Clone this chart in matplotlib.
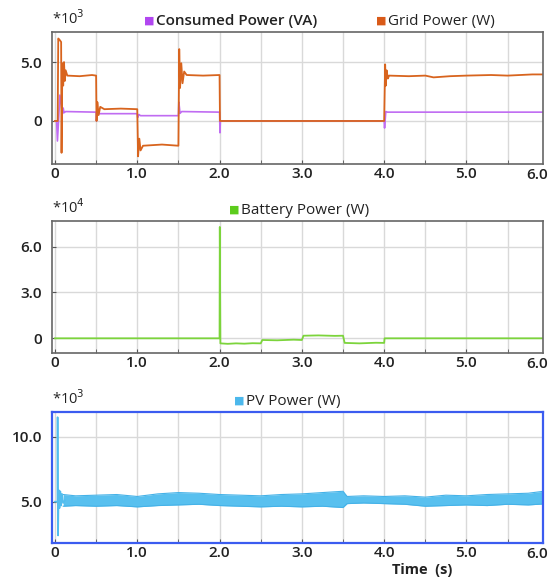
import matplotlib.pyplot as plt
import numpy as np

# ---- data (time in s, power in W / VA) ----
t_grid = [0, 0.033, 0.04, 0.06, 0.075, 0.08, 0.09, 0.1, 0.11, 0.12, 0.13, 0.15,
          0.3, 0.45, 0.5, 0.505, 0.515, 0.53, 0.55, 0.6, 0.8, 1.0, 1.01, 1.025,
          1.04, 1.07, 1.3, 1.5, 1.51, 1.52, 1.535, 1.55, 1.57, 1.6, 1.8, 2.0, 2.005,
          4.0, 4.012, 4.02, 4.03, 4.045, 4.06, 4.3, 4.5, 4.6, 4.8, 5.0, 5.3, 5.5, 5.8, 6.0]
p_grid = [0, 0, 7000, 6850, 6700, -2700, 4900, 3000, 5000, 3400, 4300, 3850,
          3800, 3900, 3850, 0, 1600, 500, 1200, 1000, 1050, 1000, -3000, -1500,
          -2500, -2100, -2000, -2100, 6100, 2800, 4900, 3200, 4200, 3900, 3850, 3900, 0,
          0, 4800, 3000, 4300, 3600, 3850, 3800, 3850, 3700, 3800, 3850, 3900, 3850, 3950, 3950]

t_cons = [0, 0.02, 0.03, 0.045, 0.06, 0.075, 0.09, 0.1, 0.11, 0.13,
          0.5, 0.505, 0.52, 0.54, 1.0, 1.005, 1.02, 1.04,
          1.5, 1.505, 1.52, 1.54, 2.0, 2.005, 2.01,
          4.0, 4.005, 4.02, 4.04, 6.0]
p_cons = [0, 0, -1700, 200, 2200, 1500, 600, 1100, 700, 800,
          750, 0, 900, 620, 620, 300, 550, 450,
          450, 1600, 650, 800, 750, -1000, 0,
          0, -600, 800, 750, 750]

t_batt = [0, 2.0, 2.003, 2.01, 2.1, 2.2, 2.3, 2.4, 2.5, 2.52,
          2.7, 2.9, 3.0, 3.02, 3.2, 3.4, 3.5, 3.52, 3.7, 3.9, 4.0, 4.005, 6.0]
p_batt = [0, 0, 72800, -3300, -3600, -3300, -3500, -3200, -3300, -1100,
          -1300, -900, -1100, 1700, 1900, 1600, 1700, -3000, -3300, -2900, -3000, 0, 0]

t_pv = [0, 0.03, 0.032, 0.035, 0.038, 0.045, 0.055, 0.065, 0.075, 0.085, 0.1, 0.12]
p_pv = [5000, 5000, 11500, 5000, 2400, 5900, 4500, 5800, 4700, 5600, 4900, 5100]

# envelope of the noisy PV band
t_band = [0.1, 0.25, 0.5, 0.75, 1.0, 1.25, 1.5, 1.75, 2.0, 2.25, 2.5, 2.75,
          3.0, 3.25, 3.5, 3.55, 3.75, 4.0, 4.25, 4.5, 4.75, 5.0, 5.25, 5.5, 5.75, 6.0]
pv_hi = [5550, 5450, 5500, 5550, 5400, 5600, 5700, 5650, 5550, 5500, 5450, 5550,
         5600, 5700, 5800, 5400, 5450, 5400, 5450, 5350, 5500, 5450, 5550, 5600, 5650, 5850]
pv_lo = [4650, 4700, 4650, 4700, 4600, 4700, 4750, 4800, 4700, 4650, 4600, 4650,
         4600, 4650, 4550, 4850, 4900, 4850, 4800, 4650, 4700, 4750, 4700, 4800, 4750, 4850]

xticks = [0, 1, 2, 3, 4, 5]

plt.rcParams['font.family'] = ['Open Sans', 'DejaVu Sans']

fig = plt.figure(figsize=(5.49, 5.77), dpi=100)
W, H = 549, 577
TK = '#222222'


def make_ax(top, bottom):
    ax = fig.add_axes([52 / W, 1 - bottom / H, 491 / W, (bottom - top) / H])
    ax.set_xlim(-0.036, 5.93)
    ax.set_xticks(xticks)
    ax.set_xticklabels(['0' if v == 0 else '%.1f' % v for v in xticks])
    ax.set_xticks(np.arange(0.5, 6, 1.0), minor=True)
    ax.grid(True, which='both', axis='x', color='#d9d9d9', lw=1)
    ax.grid(True, which='major', axis='y', color='#d9d9d9', lw=1)
    ax.set_axisbelow(True)
    ax.tick_params(which='both', direction='in', length=3, color='#555555',
                   labelsize=11, labelcolor=TK)
    ax.tick_params(axis='x', pad=2)
    ax.tick_params(axis='y', pad=7)
    for lab in ax.get_xticklabels():
        lab.set_fontweight('semibold')
    for s in ax.spines.values():
        s.set_color('#666666')
        s.set_linewidth(1.2)
    # the 6.0 label sits at the right edge of the figure
    fig.text(548 / W, 1 - (bottom + 11) / H, '6.0', ha='right', va='center',
             fontsize=11, fontweight='semibold', color=TK)
    return ax


def fmt_ticks(ax, ticks, scale):
    ax.set_yticks(ticks)
    ax.set_yticklabels(['0' if v == 0 else '%.1f' % (v / scale) for v in ticks])
    for lab in ax.get_yticklabels():
        lab.set_fontweight('semibold')


def legend_item(x, y, color, label, bold=False):
    fig.text(x / W, 1 - y / H, '\u25A0', color=color, fontsize=8,
             ha='left', va='center', family='DejaVu Sans')
    fig.text((x + 12) / W, 1 - y / H, label, color=TK, fontsize=11,
             ha='left', va='center', fontweight='semibold' if bold else 'normal')


# ---- top: consumed / grid power ----
ax1 = make_ax(32, 164)
ax1.set_ylim(-3650, 7550)
fmt_ticks(ax1, [0, 5000], 1000)
ax1.plot(t_cons, p_cons, color='#c06cf2', lw=1.2)
ax1.plot(t_grid, p_grid, color='#d8641e', lw=1.3)
ax1.text(0.0, 1.03, r'*10$^3$', transform=ax1.transAxes, fontsize=10.5,
         ha='left', va='bottom', color=TK)
legend_item(144, 21, '#b146f0', 'Consumed Power (VA)', bold=True)
legend_item(376, 21, '#d95a18', 'Grid Power (W)')

# ---- middle: battery power ----
ax2 = make_ax(221, 353)
ax2.set_ylim(-9600, 76700)
fmt_ticks(ax2, [0, 30000, 60000], 10000)
ax2.plot(t_batt, p_batt, color='#7cd43c', lw=1.3)
ax2.text(0.0, 1.03, r'*10$^4$', transform=ax2.transAxes, fontsize=10.5,
         ha='left', va='bottom', color=TK)
legend_item(229, 210, '#5ccc1c', 'Battery Power (W)')

# ---- bottom: PV power ----
ax3 = make_ax(412, 543)
ax3.set_ylim(1820, 11900)
fmt_ticks(ax3, [5000, 10000], 1000)
ax3.plot(t_pv, p_pv, color='#52bdee', lw=1.2)
ax3.fill_between(t_band, pv_lo, pv_hi, color='#58c0ef', lw=0)
ax3.plot(t_band, pv_hi, color='#45b2e8', lw=0.8)
ax3.plot(t_band, pv_lo, color='#45b2e8', lw=0.8)
for s in ax3.spines.values():
    s.set_color('#3b5cf0')
    s.set_linewidth(1.6)
ax3.text(0.0, 1.03, r'*10$^3$', transform=ax3.transAxes, fontsize=10.5,
         ha='left', va='bottom', color=TK)
legend_item(234, 401, '#4cb8ec', 'PV Power (W)')
fig.text(422 / W, 1 - 570 / H, 'Time  (s)', ha='center', va='center',
         fontsize=10.5, fontweight='bold', color=TK)

fig.savefig('out.png', dpi=100)
